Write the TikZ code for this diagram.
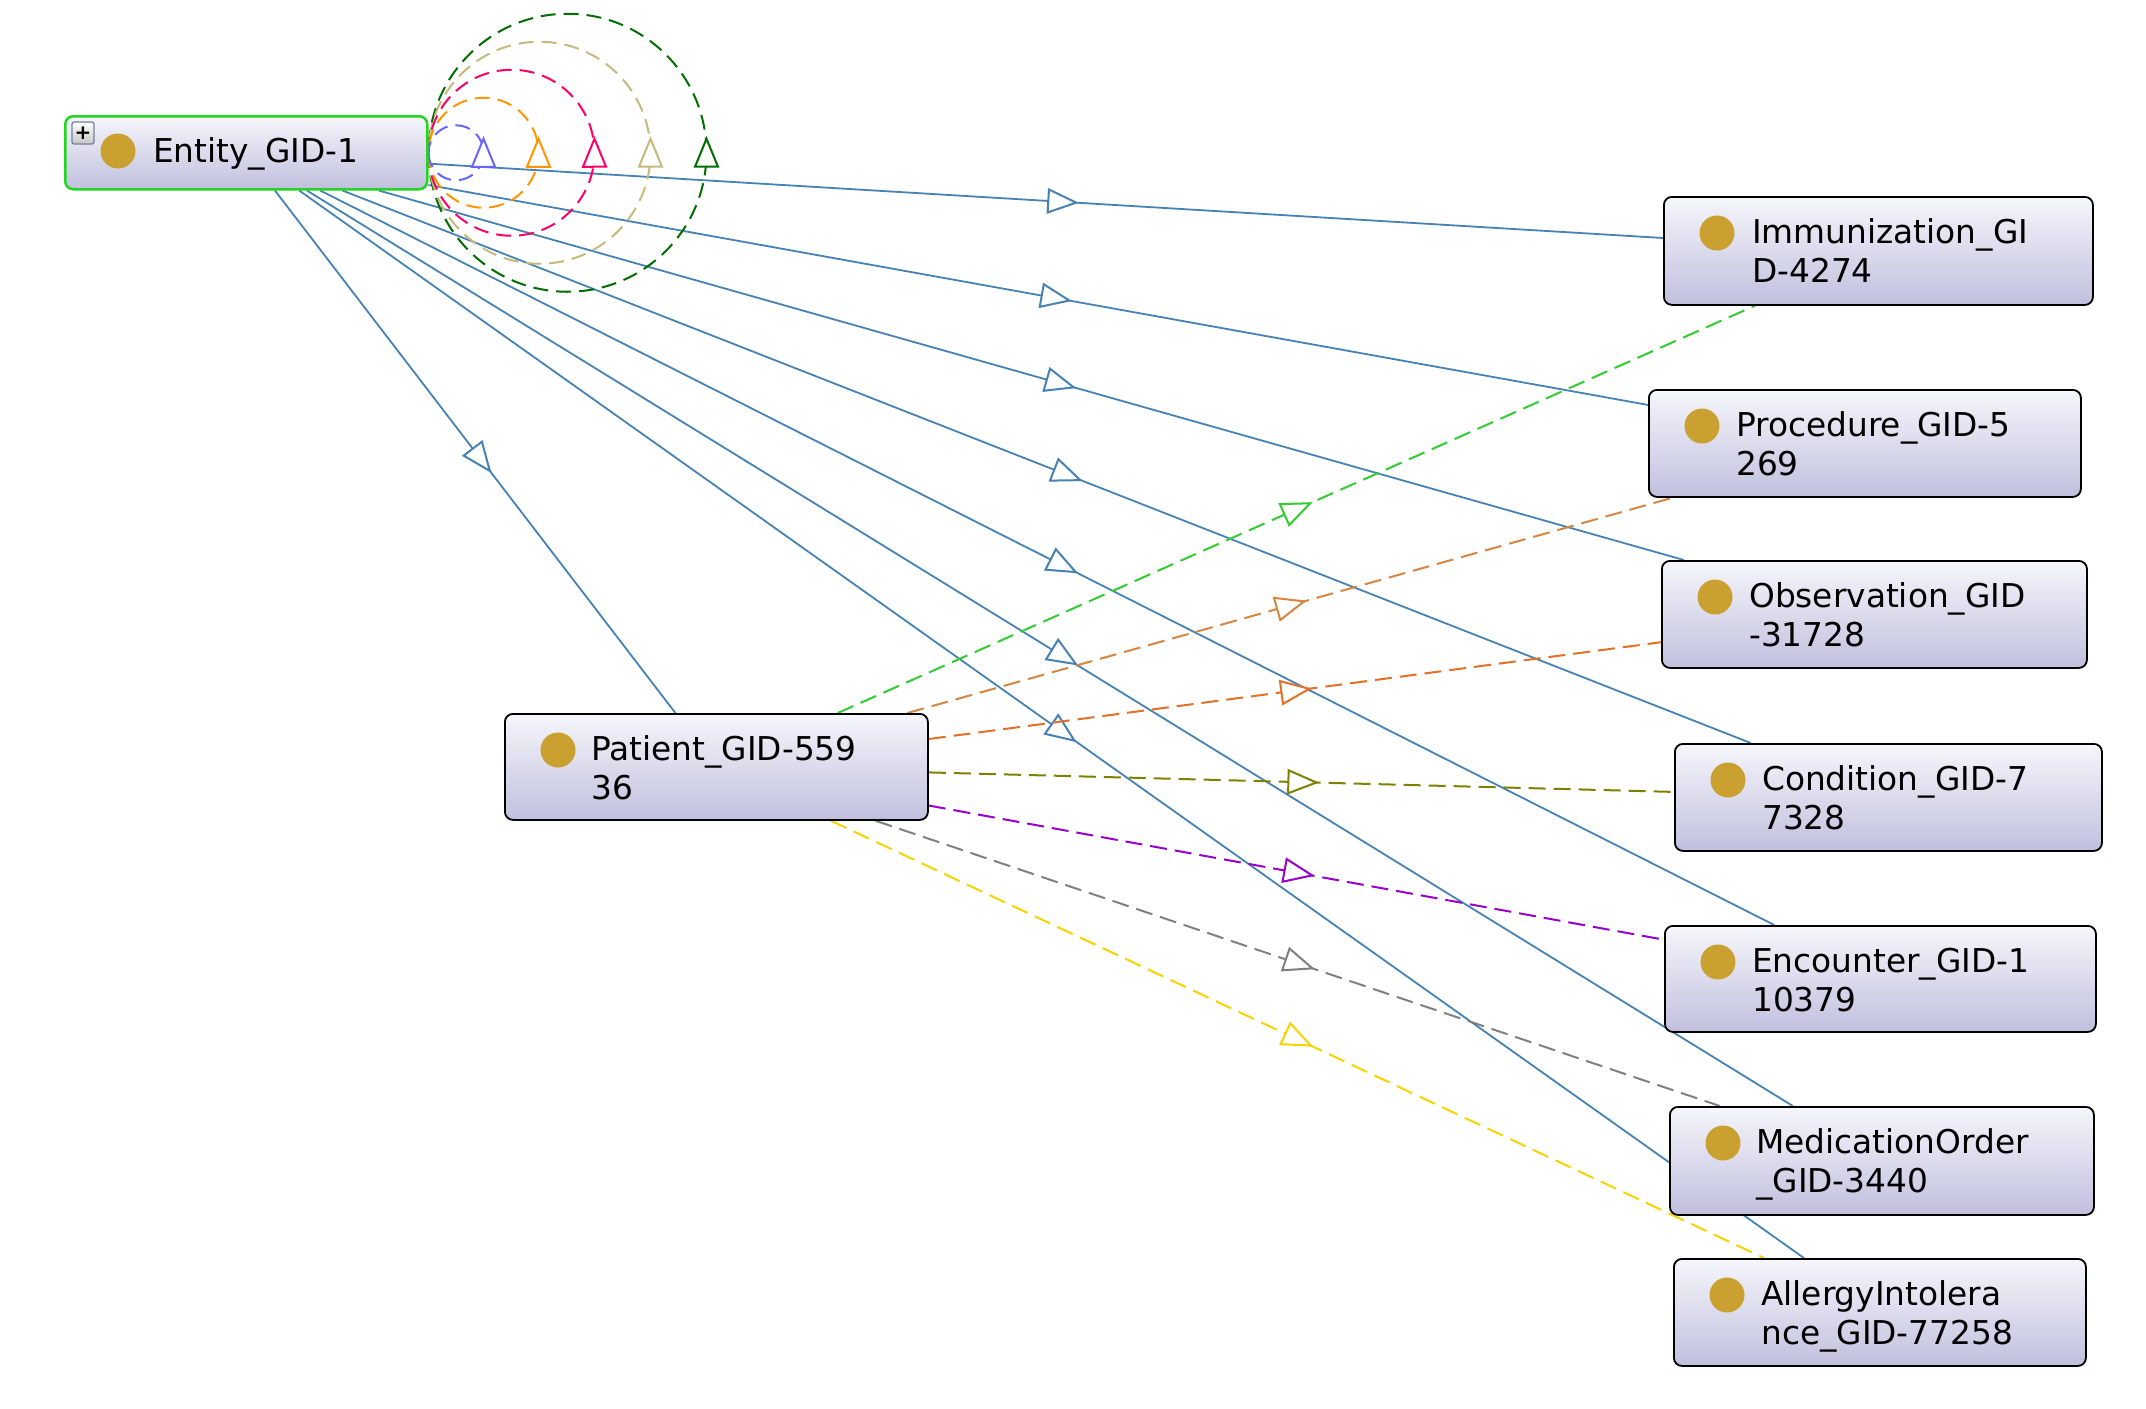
\documentclass[tikz,border=0pt]{standalone}
\usepackage{fontspec}
\newfontfamily\lblfont{DejaVu Sans}
\usetikzlibrary{calc,decorations.markings}
\pgfdeclarelayer{bg}
\pgfsetlayers{bg,main}

\definecolor{boxtop}{RGB}{246,246,251}
\definecolor{boxbot}{RGB}{192,192,222}
\definecolor{dotc}{RGB}{202,160,48}
\definecolor{entgreen}{RGB}{34,214,34}
\definecolor{edgeblue}{RGB}{70,130,180}
\definecolor{cGreen}{RGB}{50,205,50}
\definecolor{cPeru}{RGB}{214,134,64}
\definecolor{cChoc}{RGB}{226,112,38}
\definecolor{cOlive}{RGB}{128,128,0}
\definecolor{cPurple}{RGB}{153,0,204}
\definecolor{cGrey}{RGB}{128,128,128}
\definecolor{cGold}{RGB}{250,210,0}
\definecolor{lBlue}{RGB}{102,102,255}
\definecolor{lOrange}{RGB}{255,150,0}
\definecolor{lPink}{RGB}{255,0,102}
\definecolor{lKhaki}{RGB}{196,186,125}
\definecolor{lGreen}{RGB}{0,110,0}
\definecolor{plusborder}{RGB}{110,130,160}

\tikzset{
  cls/.style={rectangle, rounded corners=8pt, draw=black, line width=1.8pt,
    top color=boxtop, bottom color=boxbot, anchor=north west, inner sep=0pt},
  dotmark/.style={circle, fill=dotc, minimum size=35pt, inner sep=0pt},
  txt/.style={font=\lblfont\fontsize{32.8}{39}\selectfont, inner sep=0pt, anchor=base west},
  midtri/.style={postaction={decorate}, decoration={markings,
    mark=at position 0.5 with {\draw[solid, fill=white, line width=2pt, line join=miter, draw=#1]
      (14,0) -- (-14,11.5) -- (-14,-11.5) -- cycle;}}},
  isa/.style={draw=edgeblue, line width=1.8pt},
  rel/.style={draw=#1, line width=2pt, dash pattern=on 17pt off 8pt},
  selfloop/.style={draw=#1, line width=2pt, dash pattern=on 15pt off 8pt, midtri=#1},
  plusbox/.style={rectangle, rounded corners=2pt, draw=plusborder, line width=1.2pt,
    top color=white, bottom color=gray!45, minimum size=22pt, inner sep=0pt,
    font=\lblfont\bfseries\fontsize{20}{20}\selectfont},
}

\begin{document}
\begin{tikzpicture}[x=1pt,y=1pt]
\useasboundingbox (0,0) rectangle (2146,-1408);

% class boxes
\node[cls, draw=entgreen, line width=2.5pt, minimum width=362pt, minimum height=73pt] (entity) at (64,-115) {};
\node[cls, minimum width=429pt, minimum height=108pt] (imm) at (1663,-196) {};
\node[cls, minimum width=432pt, minimum height=107pt] (proc) at (1648,-389) {};
\node[cls, minimum width=425pt, minimum height=107pt] (obs) at (1661,-560) {};
\node[cls, minimum width=427pt, minimum height=107pt] (cond) at (1674,-743) {};
\node[cls, minimum width=431pt, minimum height=106pt] (enc) at (1664,-925) {};
\node[cls, minimum width=424pt, minimum height=108pt] (med) at (1669,-1106) {};
\node[cls, minimum width=412pt, minimum height=107pt] (allergy) at (1673,-1258) {};
\node[cls, minimum width=423pt, minimum height=106pt] (patient) at (504,-713) {};

% plus icon
\node[plusbox] (plus) at (83,-133) {+};

% dots
\node[dotmark] (entity-d) at ($(entity.north west)+(54,-36)$) {};
\foreach \n in {imm,proc,obs,cond,enc,med,allergy,patient}
  \node[dotmark] (\n-d) at ($(\n.north west)+(54,-37)$) {};

% labels
\node[txt] (entity-t) at ($(entity.north west)+(89,-47)$) {Entity\_GID-1};
\node[txt] (imm-t) at ($(imm.north west)+(89,-47)$) {\begin{tabular}[t]{@{}l@{}}Immunization\_GI\\D-4274\end{tabular}};
\node[txt] (proc-t) at ($(proc.north west)+(88,-47)$) {\begin{tabular}[t]{@{}l@{}}Procedure\_GID-5\\269\end{tabular}};
\node[txt] (obs-t) at ($(obs.north west)+(88,-47)$) {\begin{tabular}[t]{@{}l@{}}Observation\_GID\\-31728\end{tabular}};
\node[txt] (cond-t) at ($(cond.north west)+(88,-47)$) {\begin{tabular}[t]{@{}l@{}}Condition\_GID-7\\7328\end{tabular}};
\node[txt] (enc-t) at ($(enc.north west)+(88,-47)$) {\begin{tabular}[t]{@{}l@{}}Encounter\_GID-1\\10379\end{tabular}};
\node[txt] (med-t) at ($(med.north west)+(87,-47)$) {\begin{tabular}[t]{@{}l@{}}MedicationOrder\\\_GID-3440\end{tabular}};
\node[txt] (allergy-t) at ($(allergy.north west)+(88,-47)$) {\begin{tabular}[t]{@{}l@{}}AllergyIntolera\\nce\_GID-77258\end{tabular}};
\node[txt] (patient-t) at ($(patient.north west)+(87,-47)$) {\begin{tabular}[t]{@{}l@{}}Patient\_GID-559\\36\end{tabular}};

\begin{pgfonlayer}{bg}
\fill[white] (0,0) rectangle (2146,-1408);
% subclass edges (arrowhead halfway between the centres)
\foreach \t in {imm,proc,obs,cond,enc,med,allergy,patient}{
  \draw[isa] (entity) -- (\t);
  \path[midtri=edgeblue] (entity.center) -- (\t.center);
}
% object property edges
\foreach \t/\c in {imm/cGreen,proc/cPeru,obs/cChoc,cond/cOlive,enc/cPurple,med/cGrey,allergy/cGold}{
  \draw[rel=\c] (patient) -- (\t);
  \path[midtri=\c] (patient.center) -- (\t.center);
}
% self loops
\draw[selfloop=lGreen] (entity.east) arc[start angle=180, end angle=540, radius=139];
\draw[selfloop=lKhaki] (entity.east) arc[start angle=180, end angle=540, radius=111];
\draw[selfloop=lPink] (entity.east) arc[start angle=180, end angle=540, radius=83];
\draw[selfloop=lOrange] (entity.east) arc[start angle=180, end angle=540, radius=55];
\draw[selfloop=lBlue] (entity.east) arc[start angle=180, end angle=540, radius=27.5];
\end{pgfonlayer}
\end{tikzpicture}
\end{document}
